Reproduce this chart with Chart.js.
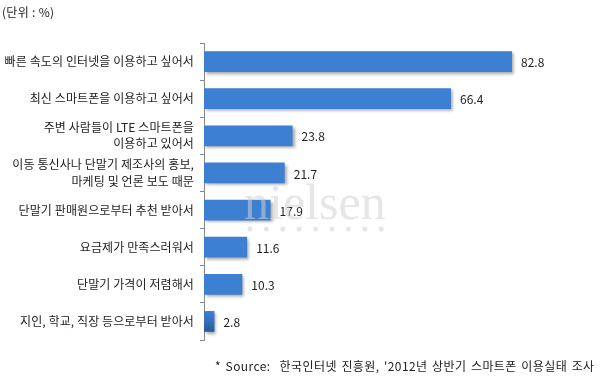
<!DOCTYPE html>
<html><head><meta charset="utf-8">
<script src="https://cdn.jsdelivr.net/npm/chart.js@4/dist/chart.umd.min.js"></script>
<style>
html,body{margin:0;padding:0;background:#fff;}
#wrap{position:relative;width:601px;height:389px;}
canvas{position:absolute;left:0;top:0;}
.t{position:absolute;font-family:"Noto Sans CJK KR","Noto Sans",sans-serif;color:#222;white-space:pre;}
</style></head>
<body>
<div id="wrap">
<canvas id="c" width="601" height="389"></canvas>
<div class="t" style="left:2px;top:3px;font-size:12px;letter-spacing:0.3px;">(단위 : %)</div>
<div class="t" style="left:215px;top:357px;font-size:12px;letter-spacing:0.4px;word-spacing:1.5px;">* Source:  한국인터넷 진흥원, '2012년 상반기 스마트폰 이용실태 조사</div>
</div>
<script>
const categories = [
  '빠른 속도의 인터넷을 이용하고 싶어서',
  '최신 스마트폰을 이용하고 싶어서',
  ['주변 사람들이 LTE 스마트폰을', '이용하고 있어서'],
  ['이동 통신사나 단말기 제조사의 홍보,', '마케팅 및 언론 보도 때문'],
  '단말기 판매원으로부터 추천 받아서',
  '요금제가 만족스러워서',
  '단말기 가격이 저렴해서',
  '지인, 학교, 직장 등으로부터 받아서'
];
const values = [82.8, 66.4, 23.8, 21.7, 17.9, 11.6, 10.3, 2.8];

const barStyle = {
  id: 'barStyle',
  beforeDraw(chart) {
    chart.ctx.letterSpacing = '0.1px';
  },
  beforeDatasetsDraw(chart) {
    const c = chart.ctx;
    chart.getDatasetMeta(0).data.forEach(el => {
      const top = el.y - el.height / 2, bot = el.y + el.height / 2;
      const g = c.createLinearGradient(0, top, 0, bot);
      g.addColorStop(0, '#3d7fd0');
      g.addColorStop(0.5, '#3470bf');
      g.addColorStop(1, '#2a5896');
      el.options.backgroundColor = g;
    });
    c.save();
    c.shadowColor = 'rgba(0,0,0,0.35)';
    c.shadowOffsetX = 2;
    c.shadowOffsetY = 2;
    c.shadowBlur = 3;
  },
  afterDatasetsDraw(chart) {
    const c = chart.ctx;
    c.restore();
    c.save();
    c.letterSpacing = '0px';
    c.font = '12px "Noto Sans CJK KR", "Noto Sans", sans-serif';
    c.fillStyle = '#222';
    c.textBaseline = 'middle';
    c.textAlign = 'left';
    chart.getDatasetMeta(0).data.forEach((el, i) => {
      c.fillText(values[i].toFixed(1), el.x + 9, el.y + 1);
    });
    c.restore();
    // watermark
    c.save();
    c.letterSpacing = '0px';
    c.globalAlpha = 0.55;
    c.fillStyle = '#cfd1d3';
    c.font = '50px "Liberation Serif", "DejaVu Serif", serif';
    c.textBaseline = 'alphabetic';
    c.fillText('nielsen', 244, 219);
    for (let k = 0; k < 9; k++) {
      c.beginPath();
      c.arc(250 + k * 16.4, 229, 2.5, 0, Math.PI * 2);
      c.fill();
    }
    c.restore();
  }
};

new Chart(document.getElementById('c'), {
  type: 'bar',
  data: {
    labels: categories,
    datasets: [{
      data: values,
      backgroundColor: '#3470bf',
      borderWidth: 0,
      barPercentage: 0.56,
      categoryPercentage: 1.0
    }]
  },
  options: {
    indexAxis: 'y',
    responsive: false,
    animation: false,
    events: [],
    layout: { padding: { left: 0, top: 43, bottom: 49, right: 25 } },
    plugins: { legend: { display: false }, tooltip: { enabled: false } },
    scales: {
      x: { display: false, min: 0, max: 100 },
      y: {
        afterFit(scale) { scale.width = 204; },
        border: { display: true, color: '#888', width: 1 },
        grid: { offset: true, drawOnChartArea: false, tickLength: 4, color: '#888' },
        ticks: {
          color: '#222',
          padding: 6,
          font: { family: '"Noto Sans CJK KR", "Noto Sans", sans-serif', size: 12, lineHeight: 1.35 }
        }
      }
    }
  },
  plugins: [barStyle]
});
</script>
</body></html>
